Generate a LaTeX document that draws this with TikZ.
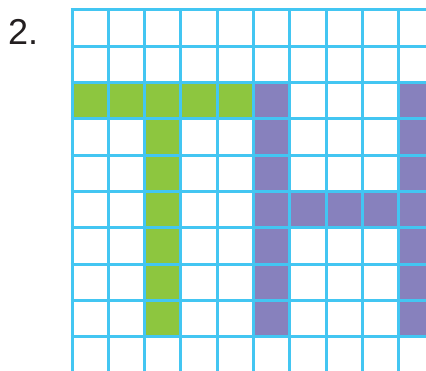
\documentclass[tikz,border=0pt]{standalone}
\usepackage{fontspec}
\setmainfont{Liberation Sans}
\definecolor{gridblue}{HTML}{43C6F2}
\definecolor{tgreen}{HTML}{8DC63F}
\definecolor{hpurple}{HTML}{8781BD}
\definecolor{numgray}{HTML}{231F20}
\begin{document}
\begin{tikzpicture}[x=1pt,y=-1pt,
  gridline/.style={draw=gridblue,line width=3pt},
  gcell/.style={fill=tgreen},
  pcell/.style={fill=hpurple}]
\useasboundingbox (0,0) rectangle (426,371);
\clip (0,0) rectangle (426,371);
\def\cs{36.3}
% green T
\foreach \c in {0,...,4} \path[gcell] ({72+\c*\cs},{10+2*\cs}) rectangle +(\cs,\cs);
\foreach \r in {3,...,8} \path[gcell] ({72+2*\cs},{10+\r*\cs}) rectangle +(\cs,\cs);
% purple H
\foreach \r in {2,...,8} {
  \path[pcell] ({72+5*\cs},{10+\r*\cs}) rectangle +(\cs,\cs);
  \path[pcell] ({72+9*\cs},{10+\r*\cs}) rectangle +(\cs,\cs);
}
\foreach \c in {6,7,8} \path[pcell] ({72+\c*\cs},{10+5*\cs}) rectangle +(\cs,\cs);
% grid
\foreach \i in {0,...,9} {
  \draw[gridline] ({72+\i*\cs},8.5) -- ({72+\i*\cs},372);
  \draw[gridline] (70.5,{10+\i*\cs}) -- (427,{10+\i*\cs});
}
\node[anchor=base west,inner sep=0pt,text=numgray,font=\fontsize{36}{40}\selectfont] (label) at (8,45) {2.};
\end{tikzpicture}
\end{document}
